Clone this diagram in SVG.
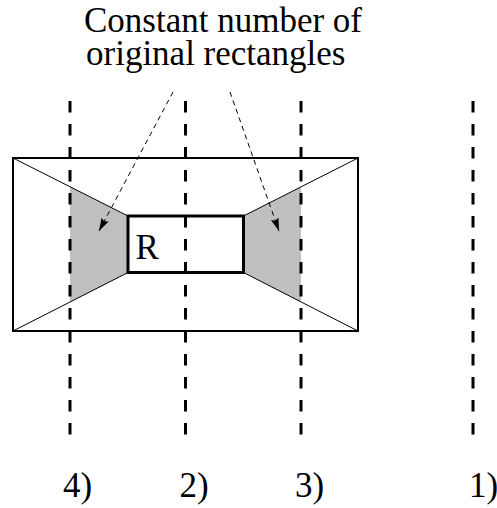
<svg xmlns="http://www.w3.org/2000/svg" width="497" height="508" viewBox="0 0 497 508">
<style>
.t{font-family:'Liberation Serif','Times New Roman','DejaVu Serif',serif;font-size:35px;fill:#000}
.sweep{stroke:#000;stroke-width:3;stroke-dasharray:11.5 11.5;fill:none}
.thin{stroke:#000;stroke-width:1;fill:none}
.shade{fill:#bfbfbf;stroke:none}
.arrow{stroke:#000;stroke-width:1;stroke-dasharray:5 4;fill:none;marker-end:url(#ah)}
</style>
<defs>
<marker id="ah" markerUnits="userSpaceOnUse" markerWidth="14" markerHeight="10" refX="13" refY="4" orient="auto">
<path d="M0,0 L13,4 L0,8 L2,4 z" fill="#000"/>
</marker>
</defs>
<rect width="497" height="508" fill="#fff"/>
<g id="shaded">
<polygon class="shade" points="70,186.7 128,216 128,272.5 70,302.3"/>
<polygon class="shade" points="243.5,216 301,186.9 301,301.9 243.5,272.5"/>
</g>
<g id="outer">
<rect x="13" y="158" width="345" height="173" fill="none" stroke="#000" stroke-width="2"/>
<line class="thin" x1="13" y1="158" x2="128" y2="216"/>
<line class="thin" x1="13" y1="331" x2="128" y2="272.5"/>
<line class="thin" x1="358" y1="158" x2="243.5" y2="216"/>
<line class="thin" x1="358" y1="331" x2="243.5" y2="272.5"/>
</g>
<g id="sweeplines">
<line class="sweep" x1="70" y1="101" x2="70" y2="436"/>
<line class="sweep" x1="185.5" y1="101" x2="185.5" y2="436"/>
<line class="sweep" x1="301" y1="101" x2="301" y2="436"/>
<line class="sweep" x1="473" y1="101" x2="473" y2="436"/>
</g>
<g id="R">
<rect x="128" y="216" width="115.5" height="56.5" fill="none" stroke="#000" stroke-width="3"/>
<text class="t" x="135.5" y="259" font-family="Liberation Serif, serif" font-size="35">R</text>
</g>
<g id="caption" font-family="Liberation Serif, serif" font-size="35">
<text class="t" x="84" y="32">Constant number of</text>
<text class="t" x="86" y="65">original rectangles</text>
</g>
<g id="connectors">
<line class="arrow" x1="173" y1="92" x2="99" y2="231"/>
<line class="arrow" x1="230" y1="92" x2="279" y2="231"/>
</g>
<g id="labels" font-family="Liberation Serif, serif" font-size="35">
<text class="t" x="63" y="497">4)</text>
<text class="t" x="179.5" y="497">2)</text>
<text class="t" x="295" y="497">3)</text>
<text class="t" x="469" y="497">1)</text>
</g>
</svg>
